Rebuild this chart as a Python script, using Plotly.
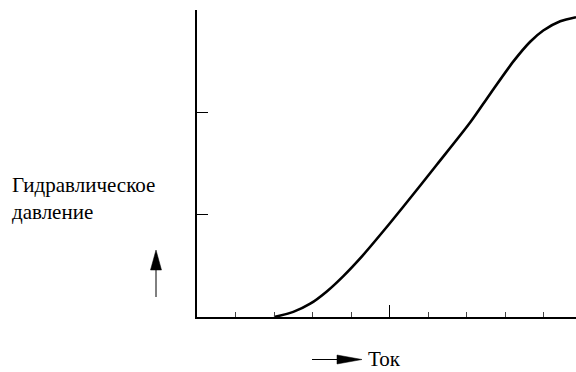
import plotly.graph_objects as go

# Data (x: current, y: hydraulic pressure, arbitrary units)
current = [2.0, 2.5, 2.94, 3.37, 3.8, 4.3, 4.84, 5.36, 6.23, 7.09, 7.61, 8.22, 8.65, 8.99, 9.43, 9.84]
pressure = [0.0, 0.05, 0.13, 0.25, 0.40, 0.60, 0.84, 1.08, 1.49, 1.90, 2.18, 2.50, 2.69, 2.80, 2.89, 2.93]

y_label = "Гидравлическое<br>давление"
x_label = "Ток"

W, H = 576, 372
ML, MR, MT, MB = 197, 0, 10, 55
PW, PH = W - ML - MR, H - MT - MB


def px(x):
    return (x - ML) / PW


def py(y):
    return (H - MB - y) / PH


fig = go.Figure()
fig.add_trace(go.Scatter(
    x=current, y=pressure, mode="lines",
    line=dict(color="black", width=2.6, shape="spline", smoothing=0.8),
    hoverinfo="skip", showlegend=False,
))

shapes = [
    # up arrow shaft + head
    dict(type="line", xref="paper", yref="paper", x0=px(156), x1=px(156), y0=py(297), y1=py(268),
         line=dict(color="black", width=1)),
    dict(type="path", xref="paper", yref="paper",
         path=f"M {px(150.5)} {py(270)} L {px(156)} {py(250)} L {px(161.5)} {py(270)} Z",
         fillcolor="black", line=dict(color="black", width=0.5)),
    # right arrow shaft + head
    dict(type="line", xref="paper", yref="paper", x0=px(312), x1=px(340), y0=py(359.5), y1=py(359.5),
         line=dict(color="black", width=1)),
    dict(type="path", xref="paper", yref="paper",
         path=f"M {px(337)} {py(355)} L {px(362)} {py(359.5)} L {px(337)} {py(364)} Z",
         fillcolor="black", line=dict(color="black", width=0.5)),
]

annotations = [
    dict(text=y_label, xref="paper", yref="paper", x=px(10), y=py(171), xanchor="left", yanchor="top",
         align="left", showarrow=False, font=dict(family="Times New Roman", size=21)),
    dict(text=x_label, xref="paper", yref="paper", x=px(366), y=py(359), xanchor="left", yanchor="middle",
         showarrow=False, font=dict(family="Times New Roman", size=21)),
]

fig.update_layout(
    width=W, height=H,
    margin=dict(l=ML, r=MR, t=MT, b=MB, pad=0),
    paper_bgcolor="white", plot_bgcolor="white",
    font=dict(color="black"),
    shapes=shapes, annotations=annotations,
    xaxis=dict(range=[0, 9.84], showgrid=False, zeroline=False, showline=True, linecolor="black",
               linewidth=1.5, ticks="inside", tickmode="linear", tick0=0, dtick=5, ticklen=12,
               tickwidth=1, tickcolor="black", showticklabels=False,
               minor=dict(dtick=1, tick0=0, ticks="inside", ticklen=5, tickwidth=1, tickcolor="#444", showgrid=False)),
    yaxis=dict(range=[0, 3], showgrid=False, zeroline=False, showline=True, linecolor="black",
               linewidth=1.5, ticks="inside", tickmode="linear", tick0=0, dtick=1, ticklen=11,
               tickwidth=1, tickcolor="black", showticklabels=False),
)

fig.write_html("out.html", config={"displayModeBar": False},
               post_script="document.body.style.margin='0';document.body.style.padding='0';")
